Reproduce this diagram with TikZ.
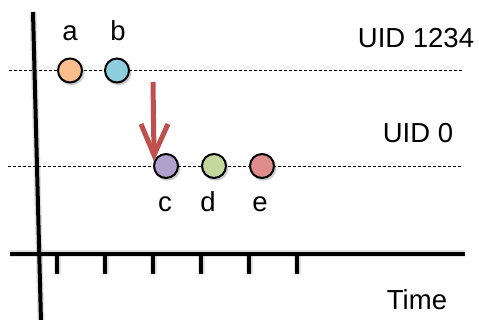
\documentclass[tikz,border=0pt]{standalone}
\usepackage{fontspec}
\setmainfont{Liberation Sans}
\usetikzlibrary{shadows.blur}
\definecolor{ca}{RGB}{250,190,142}
\definecolor{cb}{RGB}{140,205,222}
\definecolor{cc}{RGB}{176,160,206}
\definecolor{cd}{RGB}{196,216,156}
\definecolor{ce}{RGB}{222,140,140}
\definecolor{arr}{RGB}{192,80,77}
\tikzset{
  ev/.style={circle, draw=black, line width=2pt, minimum size=24pt, inner sep=0pt,
    blur shadow={shadow xshift=1.5pt, shadow yshift=-2pt, shadow blur steps=6, shadow opacity=35}},
  lbl/.style={anchor=base, inner sep=0pt, font=\fontsize{27.5}{30}\selectfont},
  guide/.style={line width=0.9pt, dash pattern=on 3pt off 2pt},
  axis/.style={line width=4pt},
  tick/.style={line width=4pt},
  soft/.style={black, opacity=0.12, line width=7pt, shift={(2,4)}},
  red arrow/.style={draw=arr, line width=5pt}
}
\begin{document}
\begin{tikzpicture}[x=1pt,y=-1pt]
\useasboundingbox (0,0) rectangle (479,320);
% guides
\coordinate (g1s) at (9,70.5); \coordinate (g1e) at (463,70.5);
\coordinate (g2s) at (8,166); \coordinate (g2e) at (463,166);
\draw[guide] (g1s) -- (g1e);
\draw[guide] (g2s) -- (g2e);
% axes
\coordinate (vt) at (33,12); \coordinate (vb) at (41,322);
\coordinate (hl) at (10,254); \coordinate (hr) at (465,254);
\draw[soft] (vt) -- (vb);
\draw[soft] (hl) -- (hr);
\foreach \x [count=\i] in {57,105,153,201,249,297}{
  \coordinate (s\i) at (\x,256); \coordinate (sb\i) at (\x,274);
  \draw[soft] (s\i) -- (sb\i);
}
\draw[axis] (vt) -- (vb);
\draw[axis] (hl) -- (hr);
\foreach \x [count=\i] in {57,105,153,201,249,297}{
  \coordinate (t\i) at (\x,254); \coordinate (tb\i) at (\x,274);
  \draw[tick] (t\i) -- (tb\i);
}
% events
\node[ev, fill=ca] (a) at (70,70.5) {};
\node[ev, fill=cb] (b) at (117,70.5) {};
\node[ev, fill=cc] (c) at (166,166) {};
\node[ev, fill=cd] (d) at (214,166) {};
\node[ev, fill=ce] (e) at (262,166) {};
% labels
\node[lbl] (la) at (70,41) {a};
\node[lbl] (lb) at (118,41) {b};
\node[lbl] (lc) at (165,212) {c};
\node[lbl] (ld) at (208,212) {d};
\node[lbl] (le) at (260,212) {e};
\node[lbl] (uid1) at (416,47.5) {UID 1234};
\node[lbl] (uid0) at (418,143) {UID 0};
\node[lbl] (time) at (417,309) {Time};
% arrow
\coordinate (as) at (153,82);
\coordinate (at) at (154,155);
\coordinate (al) at (141,124);
\coordinate (ar) at (168,124);
\draw[red arrow] (as) -- (at);
\draw[red arrow, line join=miter] (al) -- (at) -- (ar);
\end{tikzpicture}
\end{document}
